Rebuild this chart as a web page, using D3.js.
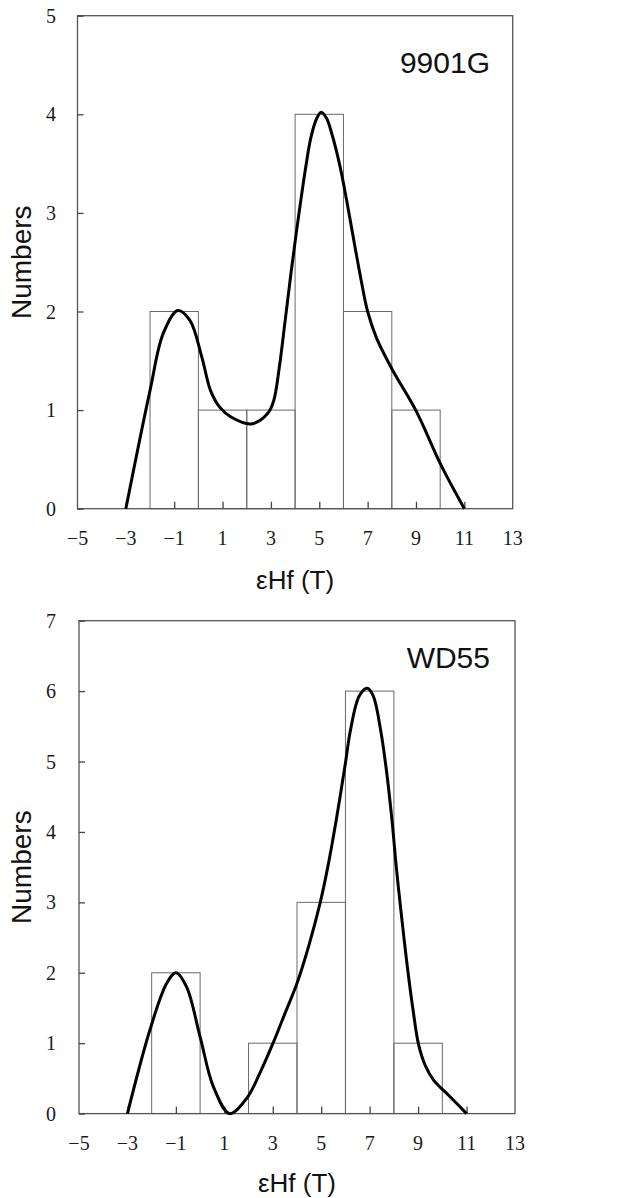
<!DOCTYPE html>
<html>
<head>
<meta charset="utf-8">
<script src="https://cdn.jsdelivr.net/npm/d3@7"></script>
<style>
html,body{margin:0;padding:0;background:#fff;}
svg{display:block;}
</style>
</head>
<body>
<svg id="chart" width="617" height="1198"></svg>
<script>
// ---- Data ----
const binEdges = [-2, 0, 2, 4, 6, 8, 10];
const xTickValues = [-5, -3, -1, 1, 3, 5, 7, 9, 11, 13];

const countsA = [2, 1, 1, 4, 2, 1];
const countsB = [2, 0, 1, 3, 6, 1];

const yTicksA = [0, 1, 2, 3, 4, 5];
const yTicksB = [0, 1, 2, 3, 4, 5, 6, 7];

const curveAx = [-3, -2.0, -1.45, -0.85, -0.35, 0.15, 0.5, 0.88, 1.35, 2.2, 2.88, 3.12, 3.35, 3.59, 3.82, 4.05, 4.25, 4.45, 4.65, 4.88, 5.08, 5.3, 5.51, 5.86, 6.13, 6.43, 6.73, 7.0, 7.37, 8.0, 9.03, 10.0, 11];
const curveAy = [0, 1.2, 1.78, 2.01, 1.91, 1.53, 1.2, 1.03, 0.93, 0.86, 0.97, 1.1, 1.44, 1.91, 2.37, 2.8, 3.15, 3.48, 3.76, 3.95, 4.02, 3.96, 3.81, 3.47, 3.13, 2.72, 2.32, 2.0, 1.73, 1.42, 0.98, 0.46, 0];

const curveBx = [-3, -2.07, -1.38, -1.0, -0.56, 0, 0.55, 1.22, 1.93, 2.5, 3.01, 3.5, 4.0, 4.5, 4.96, 5.27, 5.62, 6.0, 6.21, 6.57, 6.9, 7.15, 7.45, 7.69, 7.92, 8.1, 8.3, 8.55, 8.8, 9.02, 9.3, 9.63, 10.32, 11];
const curveBy = [0, 1.19, 1.85, 2.0, 1.8, 1.09, 0.38, 0, 0.22, 0.6, 1.0, 1.42, 1.85, 2.4, 3.0, 3.5, 4.17, 4.98, 5.45, 5.93, 6.04, 5.93, 5.45, 4.88, 4.17, 3.5, 2.85, 2.1, 1.45, 0.98, 0.68, 0.48, 0.24, 0];

const labelA = "9901G";
const labelB = "WD55";
const xTitle = "εHf (T)";
const yTitle = "Numbers";

const svg = d3.select("#chart");

function panel(cfg) {
  const {left, right, top, bottom, yMax, counts, yTicks, cx, cy, label, labelY, xLabY, titleY} = cfg;
  const x = d3.scaleLinear().domain([-5, 13]).range([left, right]);
  const y = d3.scaleLinear().domain([0, yMax]).range([bottom, top]);
  const g = svg.append("g");

  // bars
  const bins = counts.map((c, i) => ({x0: binEdges[i], x1: binEdges[i + 1], c}));
  g.selectAll("rect.bar").data(bins.filter(d => d.c > 0)).join("rect")
    .attr("class", "bar")
    .attr("x", d => x(d.x0)).attr("width", d => x(d.x1) - x(d.x0))
    .attr("y", d => y(d.c)).attr("height", d => y(0) - y(d.c))
    .attr("fill", "none").attr("stroke", "#6a6a6a").attr("stroke-width", 1);

  // frame
  g.append("rect").attr("x", left).attr("y", top)
    .attr("width", right - left).attr("height", bottom - top)
    .attr("fill", "none").attr("stroke", "#555").attr("stroke-width", 1.3);

  // x axis ticks (inward)
  const xa = g.append("g").attr("transform", `translate(0,${bottom})`)
    .call(d3.axisBottom(x).tickValues(xTickValues.slice(1, -1)).tickSizeInner(-7).tickSizeOuter(0).tickFormat(""));
  xa.select(".domain").remove();
  xa.selectAll("line").attr("stroke", "#444").attr("stroke-width", 1.3);

  // x labels
  g.selectAll("text.xl").data(xTickValues).join("text")
    .attr("class", "xl")
    .attr("x", d => x(d)).attr("y", xLabY)
    .attr("text-anchor", "middle")
    .attr("font-family", "'Liberation Serif', 'Times New Roman', serif")
    .attr("font-size", 20).attr("fill", "#1a1a1a")
    .text(d => d3.format("d")(d).replace("-", "\u2212 "));

  // y axis
  const ya = g.append("g").attr("transform", `translate(${left},0)`)
    .call(d3.axisLeft(y).tickValues(yTicks).tickSizeInner(-6).tickSizeOuter(0).tickFormat(""));
  ya.select(".domain").remove();
  ya.selectAll("line").attr("stroke", "#444").attr("stroke-width", 1.3);

  g.selectAll("text.yl").data(yTicks).join("text")
    .attr("class", "yl")
    .attr("x", 56).attr("y", d => y(d)).attr("dy", "0.35em")
    .attr("text-anchor", "end")
    .attr("font-family", "'Liberation Serif', 'Times New Roman', serif")
    .attr("font-size", 20).attr("fill", "#1a1a1a")
    .text(d => d);

  // curve
  const pts = cx.map((v, i) => [v, cy[i]]);
  const line = d3.line().x(d => x(d[0])).y(d => y(d[1])).curve(d3.curveCatmullRom.alpha(0.5));
  g.append("path").attr("d", line(pts)).attr("fill", "none")
    .attr("stroke", "#000").attr("stroke-width", 3).attr("stroke-linejoin", "round");

  // label
  g.append("text").attr("x", 490).attr("y", labelY).attr("text-anchor", "end")
    .attr("font-family", "'Liberation Sans', Arial, sans-serif")
    .attr("font-size", 30).attr("fill", "#111").text(label);

  // titles
  g.append("text").attr("x", (left + right) / 2).attr("y", titleY).attr("text-anchor", "middle")
    .attr("font-family", "'Liberation Sans', Arial, sans-serif")
    .attr("font-size", 26).attr("fill", "#111").text(xTitle);

  g.append("text").attr("transform", `translate(31,${(top + bottom) / 2}) rotate(-90)`)
    .attr("text-anchor", "middle")
    .attr("font-family", "'Liberation Sans', Arial, sans-serif")
    .attr("font-size", 28).attr("fill", "#111").text(yTitle);
}

panel({left: 77.5, right: 512.7, top: 15.7, bottom: 508.7, yMax: 5, counts: countsA, yTicks: yTicksA,
  cx: curveAx, cy: curveAy, label: labelA, labelY: 73, xLabY: 545, titleY: 589});
panel({left: 79, right: 515, top: 620.7, bottom: 1113.6, yMax: 7, counts: countsB, yTicks: yTicksB,
  cx: curveBx, cy: curveBy, label: labelB, labelY: 668, xLabY: 1150, titleY: 1192});
</script>
</body>
</html>
